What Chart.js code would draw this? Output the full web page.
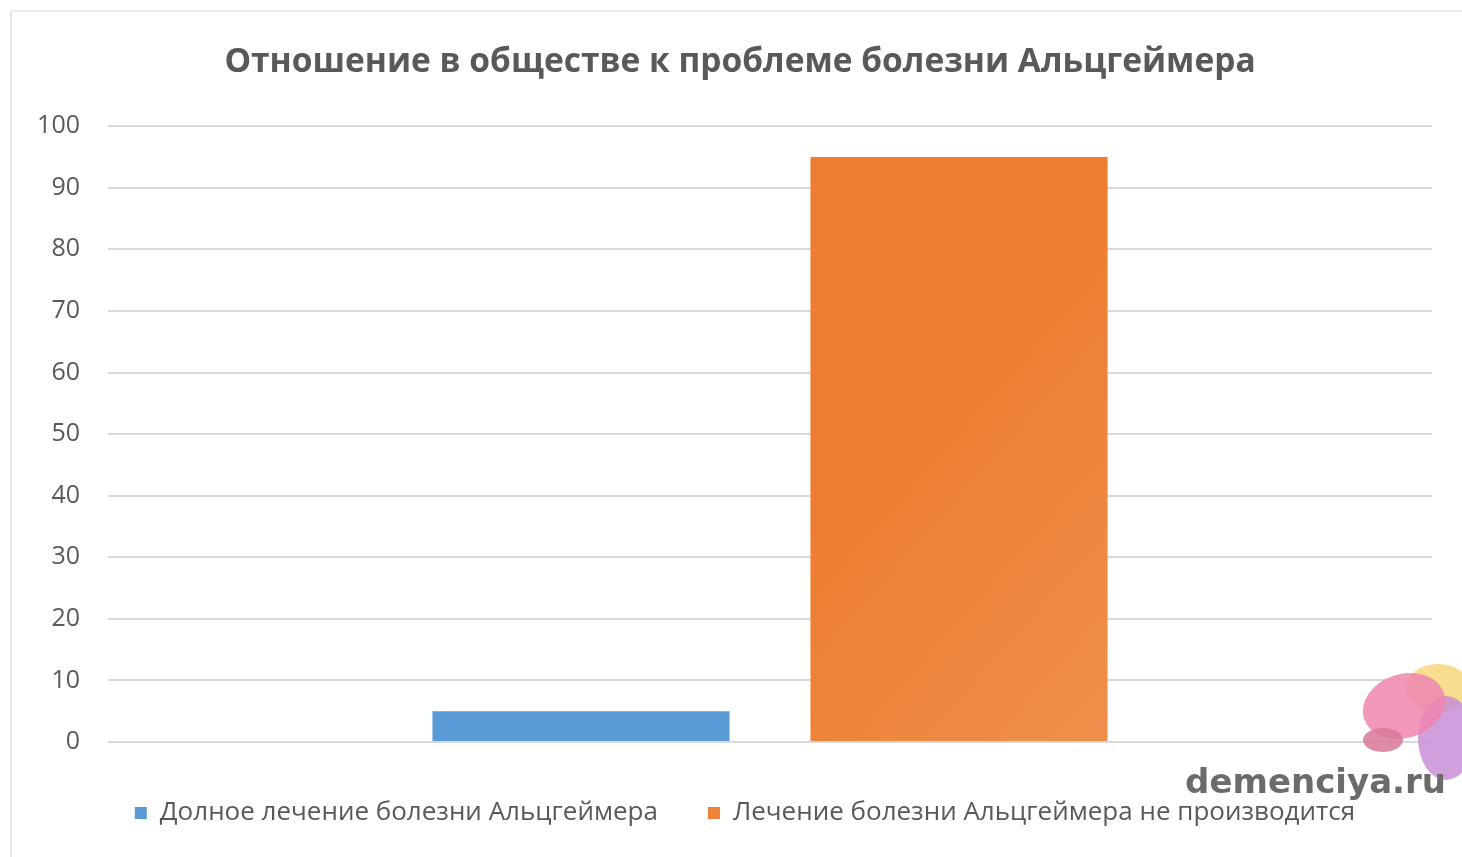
<!DOCTYPE html>
<html lang="ru">
<head>
<meta charset="utf-8">
<title>Отношение в обществе к проблеме болезни Альцгеймера</title>
<script src="https://cdn.jsdelivr.net/npm/chart.js@4"></script>
<style>
  html, body { margin: 0; padding: 0; background: #fff; }
  #wrap { position: relative; width: 1462px; height: 857px; }
  #frame { position: absolute; left: 10px; top: 10px; right: 0; bottom: 0; border-left: 2px solid #e6e6e6; border-top: 2px solid #ececec; }
  canvas { position: absolute; left: 0; top: 0; }
</style>
</head>
<body>
<div id="wrap">
  <div id="frame"></div>
  <canvas id="chart" width="1462" height="857"></canvas>
</div>
<script>
// Chart data
const categories = [''];
const seriesNames = [
    'Долное лечение болезни Альцгеймера',
    'Лечение болезни Альцгеймера не производится'
];
const fullTreatment = [5];
const noTreatment = [95];
const yTicks = [0, 10, 20, 30, 40, 50, 60, 70, 80, 90, 100];

const textColor = '#595959';
const fontFamily = "'Open Sans', 'DejaVu Sans', sans-serif";

// Orange bar gets a soft light gradient towards the lower right, like the picture
function orangeFill(context) {
    const area = context.chart.chartArea;
    if (!area) return '#ED7D31';
    const ctx = context.chart.ctx;
    const g = ctx.createLinearGradient(
        area.left + area.width * 0.55, area.top + area.height * 0.6,
        area.left + area.width * 0.76, area.bottom);
    g.addColorStop(0, '#ED7D31');
    g.addColorStop(1, '#EF8F4C');
    return g;
}

// Title and legend in the picture sit a bit right of the page centre
const blockShift = {
    id: 'blockShift',
    afterLayout(chart) {
        chart.legend.left += 24;
        chart.legend.right += 24;
        chart.titleBlock.left += 19;
        chart.titleBlock.right += 19;
    }
};

// Watermark in the corner (site name + brain logo)
const watermark = {
    id: 'watermark',
    afterDraw(chart) {
        const ctx = chart.ctx;
        ctx.save();
        // brain logo
        ctx.globalAlpha = 0.85;
        ctx.fillStyle = '#F7D77E';
        ctx.beginPath(); ctx.ellipse(1438, 688, 32, 24, 0, 0, Math.PI * 2); ctx.fill();
        ctx.fillStyle = '#C98FD6';
        ctx.beginPath(); ctx.ellipse(1446, 738, 28, 42, 0, 0, Math.PI * 2); ctx.fill();
        ctx.fillStyle = '#EE86B0';
        ctx.beginPath(); ctx.ellipse(1404, 706, 42, 32, -0.3, 0, Math.PI * 2); ctx.fill();
        ctx.fillStyle = '#D9789A';
        ctx.beginPath(); ctx.ellipse(1383, 740, 20, 12, 0, 0, Math.PI * 2); ctx.fill();
        ctx.globalAlpha = 1;
        // site name
        ctx.fillStyle = '#6b6b6b';
        ctx.font = "bold 34px 'DejaVu Sans', sans-serif";
        ctx.textAlign = 'right';
        ctx.textBaseline = 'middle';
        ctx.fillText('demenciya.ru', 1446, 784);
        ctx.restore();
    }
};

const chart = new Chart(document.getElementById('chart').getContext('2d'), {
    type: 'bar',
    data: {
        labels: categories,
        datasets: [
            {
                label: seriesNames[0],
                data: fullTreatment,
                backgroundColor: '#5B9BD5',
                categoryPercentage: 0.571,
                barPercentage: 0.786
            },
            {
                label: seriesNames[1],
                data: noTreatment,
                backgroundColor: orangeFill,
                categoryPercentage: 0.571,
                barPercentage: 0.786
            }
        ]
    },
    options: {
        responsive: false,
        animation: false,
        layout: { padding: { left: 10, right: 30, top: 0, bottom: 21 } },
        plugins: {
            title: {
                display: true,
                text: 'Отношение в обществе к проблеме болезни Альцгеймера',
                color: textColor,
                font: { family: fontFamily, size: 33.5, weight: 'bold' },
                padding: { top: 42, bottom: 44 }
            },
            legend: {
                position: 'bottom',
                labels: {
                    color: textColor,
                    font: { family: fontFamily, size: 26 },
                    boxWidth: 12,
                    boxHeight: 12,
                    padding: 50
                }
            },
            tooltip: { enabled: false }
        },
        scales: {
            x: {
                grid: { display: false },
                border: { display: false },
                ticks: { display: false }
            },
            y: {
                min: 0,
                max: 100,
                afterBuildTicks(axis) {
                    axis.ticks = yTicks.map(v => ({ value: v }));
                },
                afterFit(axis) {
                    axis.width = 98;
                },
                grid: { color: '#d9d9d9', lineWidth: 2, drawTicks: false },
                border: { display: false },
                ticks: {
                    color: textColor,
                    font: { family: fontFamily, size: 25 },
                    padding: 28
                }
            }
        }
    },
    plugins: [blockShift, watermark]
});
</script>
</body>
</html>
